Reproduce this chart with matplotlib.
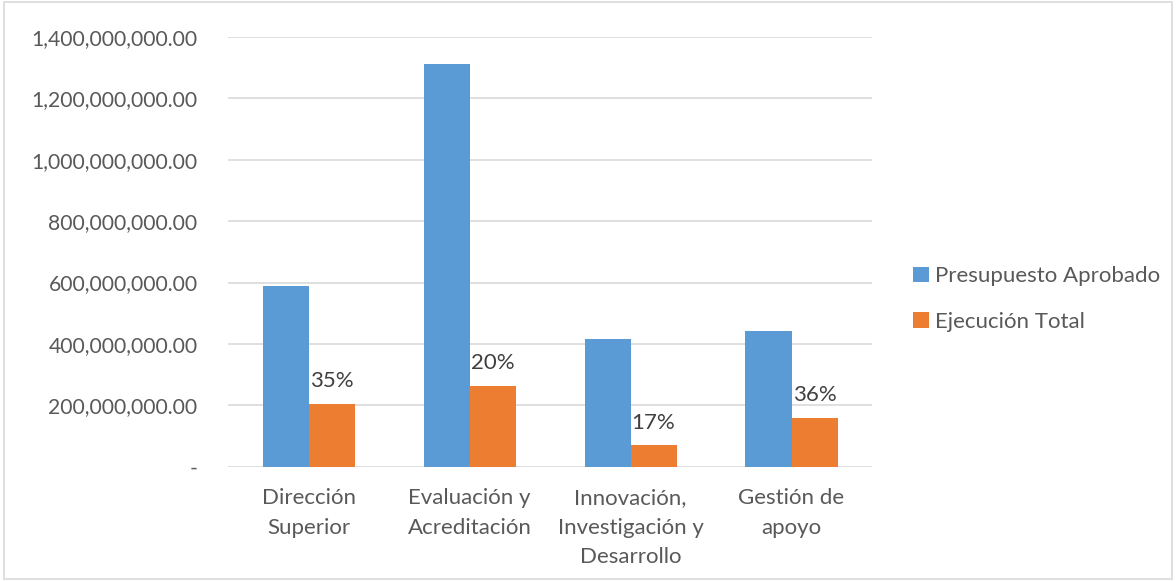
import matplotlib.pyplot as plt
from matplotlib.ticker import FuncFormatter
import numpy as np

categories = ['Dirección\nSuperior', 'Evaluación y\nAcreditación',
              'Innovación,\nInvestigación y\nDesarrollo', 'Gestión de\napoyo']
presupuesto = [589_600_000, 1_310_600_000, 416_600_000, 443_700_000]
ejecucion = [204_600_000, 263_000_000, 69_800_000, 158_900_000]
pct_labels = ['35%', '20%', '17%', '36%']

plt.rcParams['font.family'] = ['Lato', 'DejaVu Sans']
gray = '#595959'

fig = plt.figure(figsize=(11.76, 5.81), dpi=100)
ax = fig.add_axes([0.194, 0.1967, 0.5475, 0.7396])

x = np.arange(len(categories))
w = 0.286
ax.bar(x - w / 2, presupuesto, w, color='#5B9BD5', label='Presupuesto Aprobado', zorder=3)
bars = ax.bar(x + w / 2, ejecucion, w, color='#ED7D31', label='Ejecución Total', zorder=3)

for b, lab in zip(bars, pct_labels):
    ax.annotate(lab, (b.get_x() + b.get_width() / 2, b.get_height()),
                xytext=(0, 9), textcoords='offset points', ha='center', va='bottom',
                fontsize=16, color='#404040')

ax.set_xlim(-0.5, len(categories) - 0.5)
ax.set_ylim(0, 1_400_000_000)
ax.set_yticks(np.arange(0, 1_400_000_001, 200_000_000))
ax.yaxis.set_major_formatter(FuncFormatter(lambda v, p: '-' if v == 0 else f'{v:,.2f}'))
ax.set_xticks(x)
ax.set_xticklabels(categories, linespacing=1.6)
ax.tick_params(axis='y', length=0, pad=22, labelsize=15.2, labelcolor=gray)
ax.tick_params(axis='x', length=0, pad=15.5, labelsize=16, labelcolor=gray)
ax.grid(axis='y', color='#D9D9D9', linewidth=1.2, zorder=0)
for s in ax.spines.values():
    s.set_visible(False)

ax.legend(loc='center left', bbox_to_anchor=(1.033, 0.39), frameon=False, fontsize=16,
          labelcolor=gray, handlelength=0.7, handleheight=0.7, handletextpad=0.3,
          labelspacing=1.15)

fig.patches.append(plt.Rectangle((0.003, 0.003), 0.994, 0.994, transform=fig.transFigure,
                                 fill=False, edgecolor='#D9D9D9', linewidth=1.2))

fig.savefig('out.png', dpi=100)
